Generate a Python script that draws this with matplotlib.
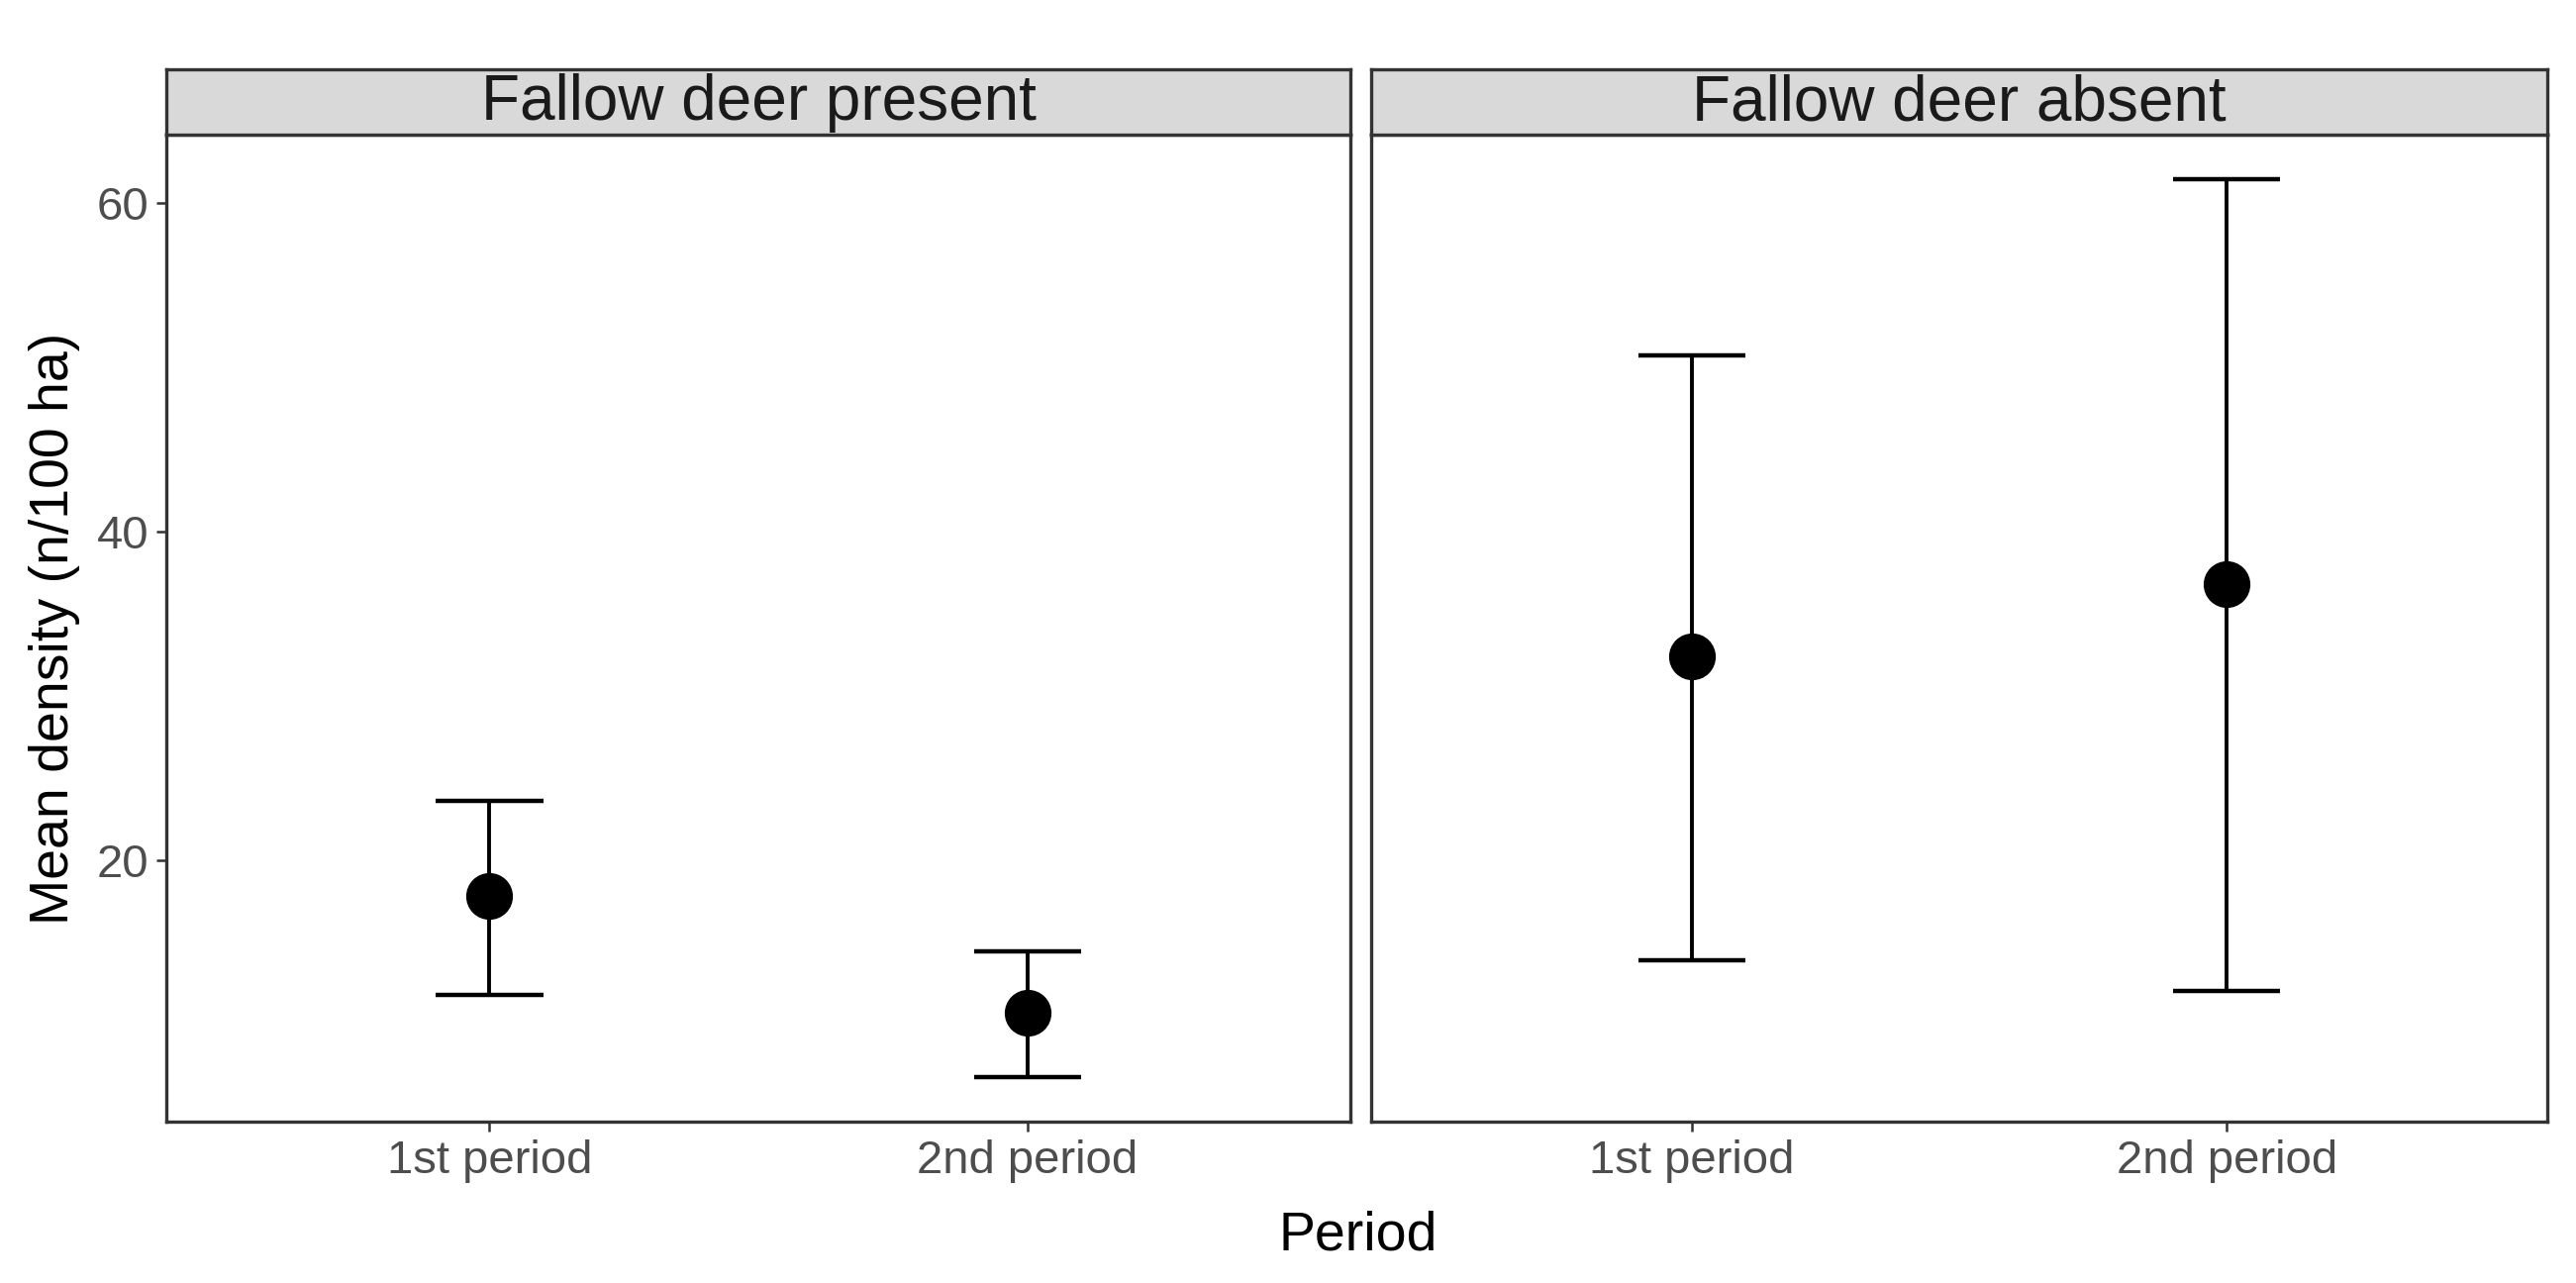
import matplotlib
matplotlib.use('Agg')
from matplotlib import pyplot as plt
import numpy as np

panels = ['Fallow deer present', 'Fallow deer absent']
periods = ['1st period', '2nd period']

present_mean = [17.8, 10.7]
present_low = [11.8, 6.8]
present_high = [23.6, 14.4]

absent_mean = [32.4, 36.8]
absent_low = [13.9, 12.0]
absent_high = [50.7, 61.4]

plt.rcParams['font.family'] = ['Liberation Sans', 'DejaVu Sans']

fig = plt.figure(figsize=(26.02, 12.96), dpi=100)

# panel boxes in figure fractions
ax_left = [0.0646, 0.5323]
ax_width = [0.4597, 0.4566]
ax_bottom = 0.1258
ax_height = 0.7693
strip_h = 0.0509

dark = '#333333'
cap_w = 0.2

lo_all = min(present_low + absent_low)
hi_all = max(present_high + absent_high)
pad = (hi_all - lo_all) * 0.05

data = [(present_mean, present_low, present_high),
        (absent_mean, absent_low, absent_high)]

x = np.arange(1, len(periods) + 1)

for i, (m, lo, hi) in enumerate(data):
    a = fig.add_axes([ax_left[i], ax_bottom, ax_width[i], ax_height])
    a.vlines(x, lo, hi, color='black', lw=2.8, zorder=2)
    a.hlines(lo, x - cap_w / 2, x + cap_w / 2, color='black', lw=3.2, zorder=2)
    a.hlines(hi, x - cap_w / 2, x + cap_w / 2, color='black', lw=3.2, zorder=2)
    a.plot(x, m, 'o', color='black', ms=33, zorder=3)

    a.set_xlim(0.4, 2.6)
    a.set_ylim(lo_all - pad, hi_all + pad)
    a.set_xticks(x)
    a.set_xticklabels(periods)
    a.set_yticks([20, 40, 60])
    a.tick_params(axis='both', length=7, width=1.8, color=dark,
                  labelsize=34, labelcolor='#4D4D4D', pad=6)
    if i == 1:
        a.tick_params(axis='y', left=False, labelleft=False)
    for s in a.spines.values():
        s.set_color(dark)
        s.set_linewidth(2.4)

    # facet strip
    st = fig.add_axes([ax_left[i], ax_bottom + ax_height, ax_width[i], strip_h])
    st.set_xticks([])
    st.set_yticks([])
    st.set_facecolor('#D9D9D9')
    for s in st.spines.values():
        s.set_color(dark)
        s.set_linewidth(2.4)
    st.text(0.5, 0.48, panels[i], ha='center', va='center', fontsize=46,
            color='#1A1A1A', transform=st.transAxes)

    if i == 0:
        a.set_ylabel('Mean density (n/100 ha)', fontsize=40, labelpad=12)

fig.text(0.527, 0.037, 'Period', ha='center', va='center', fontsize=40)

plt.savefig('out.png', dpi=100)
